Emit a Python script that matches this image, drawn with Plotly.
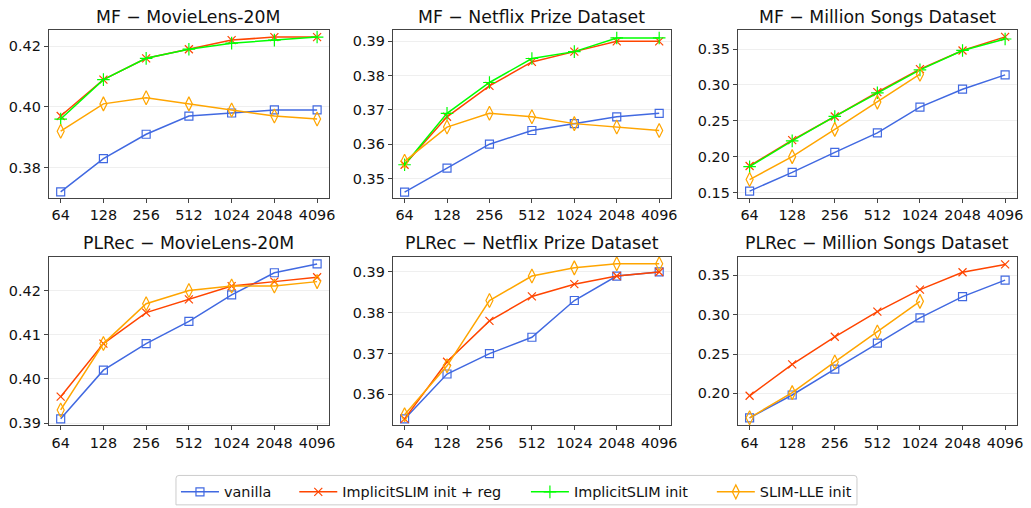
import plotly.graph_objects as go

dims = ["64", "128", "256", "512", "1024", "2048", "4096"]

# MF - MovieLens-20M
mf_ml_vanilla = [0.372, 0.383, 0.391, 0.397, 0.398, 0.399, 0.399]
mf_ml_reg = [0.397, 0.409, 0.416, 0.419, 0.422, 0.423, 0.423]
mf_ml_init = [0.396, 0.409, 0.416, 0.419, 0.421, 0.422, 0.423]
mf_ml_lle = [0.392, 0.401, 0.403, 0.401, 0.399, 0.397, 0.396]

# MF - Netflix
mf_nf_vanilla = [0.346, 0.353, 0.360, 0.364, 0.366, 0.368, 0.369]
mf_nf_reg = [0.354, 0.368, 0.377, 0.384, 0.387, 0.390, 0.390]
mf_nf_init = [0.354, 0.369, 0.378, 0.385, 0.387, 0.391, 0.391]
mf_nf_lle = [0.355, 0.365, 0.369, 0.368, 0.366, 0.365, 0.364]

# MF - Million Songs
mf_msd_vanilla = [0.152, 0.178, 0.206, 0.233, 0.269, 0.294, 0.314]
mf_msd_reg = [0.187, 0.223, 0.256, 0.290, 0.322, 0.348, 0.367]
mf_msd_init = [0.186, 0.222, 0.256, 0.289, 0.321, 0.348, 0.364]
mf_msd_lle = [0.168, 0.200, 0.238, 0.276, 0.315, None, None]

# PLRec - MovieLens-20M
pl_ml_vanilla = [0.391, 0.402, 0.408, 0.413, 0.419, 0.424, 0.426]
pl_ml_reg = [0.396, 0.408, 0.415, 0.418, 0.421, 0.422, 0.423]
pl_ml_lle = [0.393, 0.408, 0.417, 0.420, 0.421, 0.421, 0.422]

# PLRec - Netflix
pl_nf_vanilla = [0.354, 0.365, 0.370, 0.374, 0.383, 0.389, 0.390]
pl_nf_reg = [0.354, 0.368, 0.378, 0.384, 0.387, 0.389, 0.390]
pl_nf_lle = [0.355, 0.367, 0.383, 0.389, 0.391, 0.392, 0.392]

# PLRec - Million Songs
pl_msd_vanilla = [0.169, 0.198, 0.231, 0.264, 0.296, 0.323, 0.344]
pl_msd_reg = [0.197, 0.237, 0.272, 0.304, 0.332, 0.354, 0.364]
pl_msd_lle = [0.169, 0.201, 0.240, 0.278, 0.317, None, None]

titles = ["MF \u2212 MovieLens-20M", "MF \u2212 Netflix Prize Dataset", "MF \u2212 Million Songs Dataset",
          "PLRec \u2212 MovieLens-20M", "PLRec \u2212 Netflix Prize Dataset", "PLRec \u2212 Million Songs Dataset"]

series_names = ["vanilla", "ImplicitSLIM init + reg", "ImplicitSLIM init", "SLIM-LLE init"]
colors = ["#4169E1", "#FF4500", "#00FF00", "#FFA500"]
symbols = ["square-open", "x-thin-open", "cross-thin-open", "diamond-tall-open"]
sizes = [8, 8, 9, 10]

panels = [
    [mf_ml_vanilla, mf_ml_reg, mf_ml_init, mf_ml_lle],
    [mf_nf_vanilla, mf_nf_reg, mf_nf_init, mf_nf_lle],
    [mf_msd_vanilla, mf_msd_reg, mf_msd_init, mf_msd_lle],
    [pl_ml_vanilla, pl_ml_reg, None, pl_ml_lle],
    [pl_nf_vanilla, pl_nf_reg, None, pl_nf_lle],
    [pl_msd_vanilla, pl_msd_reg, None, pl_msd_lle],
]

yranges = [[0.370, 0.4252], [0.3443, 0.3932], [0.1423, 0.376],
           [0.3895, 0.4276], [0.3524, 0.3937], [0.1593, 0.3736]]
ytickvals = [[0.38, 0.40, 0.42], [0.35, 0.36, 0.37, 0.38, 0.39], [0.15, 0.20, 0.25, 0.30, 0.35],
             [0.39, 0.40, 0.41, 0.42], [0.36, 0.37, 0.38, 0.39], [0.20, 0.25, 0.30, 0.35]]

W, H = 1031, 508
xdom_px = [(49, 331), (395, 675), (742, 1023)]
ydom_px = [(31, 202), (262, 434)]
legend_names = ["legend", "legend2", "legend3", "legend4"]
legend_sym_px = [183, 302, 535, 722]

fig = go.Figure()
font_family = "DejaVu Sans"
TICK = 14.4
for p in range(6):
    r, c = divmod(p, 3)
    idx = p + 1
    xa = "x" if idx == 1 else f"x{idx}"
    ya = "y" if idx == 1 else f"y{idx}"
    for s in range(4):
        vals = panels[p][s]
        if vals is None:
            continue
        fig.add_trace(go.Scatter(
            x=dims, y=vals, mode="lines+markers", name=series_names[s],
            line=dict(color=colors[s], width=1.5),
            marker=dict(symbol=symbols[s], size=sizes[s], color=colors[s],
                        line=dict(color=colors[s], width=1.2)),
            xaxis=xa, yaxis=ya, showlegend=(p == 0), legendgroup=series_names[s],
            legend=legend_names[s],
        ))
    x0, x1 = xdom_px[c]
    y0, y1 = ydom_px[r]
    axis_common = dict(showline=True, linecolor="#444444", linewidth=1, mirror=True,
                       ticks="outside", ticklen=4, tickcolor="#444444",
                       tickfont=dict(size=TICK, color="#111111", family=font_family))
    fig.layout[f"xaxis{idx if idx > 1 else ''}"] = dict(
        domain=[x0 / W, x1 / W], anchor=ya, type="category", range=[-0.28, 6.28],
        showgrid=False, **axis_common)
    fig.layout[f"yaxis{idx if idx > 1 else ''}"] = dict(
        domain=[1 - y1 / H, 1 - y0 / H], anchor=xa, range=yranges[p],
        tickvals=ytickvals[p], tickformat=".2f",
        showgrid=True, gridcolor="#efefef", gridwidth=1, zeroline=False, **axis_common)
    fig.add_annotation(text=titles[p], x=(x0 + x1) / 2 / W, y=1 - (y0 - 14) / H,
                       xref="paper", yref="paper", xanchor="center", yanchor="middle",
                       showarrow=False, font=dict(size=17.3, color="#111111", family=font_family))

legend_common = dict(orientation="h", yanchor="middle", y=1 - 502 / H, xanchor="left",
                     bgcolor="rgba(0,0,0,0)", borderwidth=0,
                     font=dict(size=TICK, family=font_family, color="#111111"),
                     itemwidth=38)
for i, ln in enumerate(legend_names):
    fig.layout[ln] = dict(x=(legend_sym_px[i] - 6) / W, **legend_common)

# legend frame (rounded box, bottom runs past the canvas edge)
lx0, lx1, ly0, ly1, rad = 177, 862, 485, 515, 3
frame = (f"M {lx0/W},{1-(ly0+rad)/H} Q {lx0/W},{1-ly0/H} {(lx0+rad)/W},{1-ly0/H} "
         f"L {(lx1-rad)/W},{1-ly0/H} Q {lx1/W},{1-ly0/H} {lx1/W},{1-(ly0+rad)/H} "
         f"L {lx1/W},{1-ly1/H} L {lx0/W},{1-ly1/H} Z")
fig.add_shape(type="path", path=frame, xref="paper", yref="paper",
              line=dict(color="#cccccc", width=1), fillcolor="rgba(255,255,255,0.8)", layer="below")

fig.update_layout(
    width=W, height=H, margin=dict(l=0, r=0, t=0, b=0),
    paper_bgcolor="white", plot_bgcolor="white",
    font=dict(family=font_family, color="#111111"),
    showlegend=True,
)

fig.write_html("out.html", config={"displayModeBar": False},
               post_script="document.body.style.margin='0';document.body.style.overflow='hidden';")
